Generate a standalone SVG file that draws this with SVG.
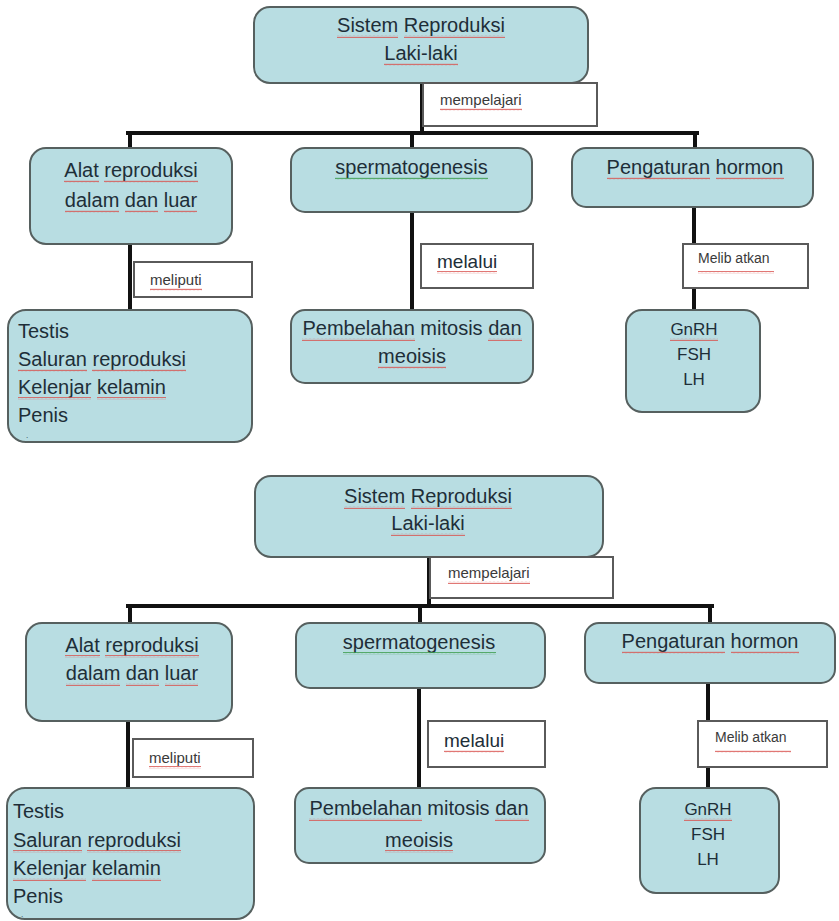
<svg xmlns="http://www.w3.org/2000/svg" width="839" height="921" viewBox="0 0 839 921">
<style>
.n{fill:#b8dde2;stroke:#56605f;stroke-width:2}
.lb{fill:#ffffff;stroke:#5a5a5a;stroke-width:2}
.c{stroke:#111;stroke-width:4;fill:none;stroke-linecap:square}
text{font-family:"Liberation Sans",Arial,sans-serif;fill:#1e2e38}
.t{font-size:20px}
.tm{text-anchor:middle}
.s{font-size:15px;fill:#3a3a3a}
.h{font-size:17px}
.d{font-size:8px}
.sq{fill:url(#wv)}
.sg{fill:url(#wg)}
</style>
<defs>
<pattern id="wv" width="4" height="3" patternUnits="userSpaceOnUse"><path d="M0 2.2 L1 0.8 L2 2.2 L3 0.8 L4 2.2" stroke="#d9534f" stroke-width="0.8" fill="none"/></pattern>
<pattern id="wg" width="4" height="3" patternUnits="userSpaceOnUse"><path d="M0 2.2 L1 0.8 L2 2.2 L3 0.8 L4 2.2" stroke="#3a9a4a" stroke-width="0.8" fill="none"/></pattern>
</defs>
<rect width="839" height="921" fill="#ffffff"/>

<g id="connectors">
<path class="c" d="M422 83 V133 M128 133 H697 M130 133 V148 M412 133 V148 M695 133 V148 M130 244 V310 M412 212 V310 M694 207 V310"/>
<path class="c" d="M429 557 V606 M128 606 H712 M130 606 V623 M420 606 V623 M710 606 V623 M128 721 V788 M419 688 V788 M708 683 V788"/>
</g>

<!-- top diagram -->
<g id="root1">
<rect class="n" x="254" y="7" width="334" height="76" rx="16"/>
<text class="t tm" x="421" y="32">Sistem Reproduksi</text>
<text class="t tm" x="421" y="60">Laki-laki</text>
<rect class="sq" x="337" y="35" width="61" height="3"/><rect class="sq" x="404" y="35" width="101" height="3"/>
<rect class="sq" x="384" y="63" width="74" height="3"/>
</g>
<g id="lbl-mempelajari1">
<rect class="lb" x="423" y="83" width="174" height="43"/>
<text class="s" x="440" y="105">mempelajari</text>
<rect class="sq" x="440" y="108" width="82" height="3"/>
</g>
<g id="alat1">
<rect class="n" x="30" y="148" width="202" height="96" rx="16"/>
<text class="t tm" x="131" y="177">Alat reproduksi</text>
<text class="t tm" x="131" y="207">dalam dan luar</text>
<rect class="sq" x="64" y="180" width="35" height="3"/><rect class="sq" x="104" y="180" width="94" height="3"/>
<rect class="sq" x="65" y="210" width="54" height="3"/><rect class="sq" x="125" y="210" width="33" height="3"/><rect class="sq" x="164" y="210" width="33" height="3"/>
</g>
<g id="sperma1">
<rect class="n" x="291" y="148" width="241" height="64" rx="14"/>
<text class="t tm" x="411.5" y="174">spermatogenesis</text>
<rect class="sg" x="335" y="177" width="153" height="3"/>
</g>
<g id="hormon1">
<rect class="n" x="572" y="148" width="241" height="59" rx="14"/>
<text class="t tm" x="695" y="174">Pengaturan hormon</text>
<rect class="sq" x="607" y="177" width="103" height="3"/><rect class="sq" x="716" y="177" width="68" height="3"/>
</g>
<g id="lbl-meliputi1">
<rect class="lb" x="134" y="262" width="118" height="35"/>
<text class="s" x="150" y="285">meliputi</text>
<rect class="sq" x="150" y="288" width="52" height="3"/>
</g>
<g id="lbl-melalui1">
<rect class="lb" x="421" y="244" width="112" height="44"/>
<text class="t" x="437" y="268" style="font-size:19px">melalui</text>
<rect class="sq" x="437" y="271" width="60" height="3"/>
</g>
<g id="lbl-melibatkan1">
<rect class="lb" x="683" y="244" width="125" height="44"/>
<text class="s" x="698" y="263" style="font-size:14px">Melib atkan</text>
<rect class="sq" x="698" y="271" width="76" height="3"/>
</g>
<g id="organ1">
<rect class="n" x="8" y="310" width="244" height="132" rx="18"/>
<text class="t" x="18" y="338">Testis</text>
<text class="t" x="18" y="366">Saluran reproduksi</text>
<text class="t" x="18" y="394">Kelenjar kelamin</text>
<text class="t" x="18" y="422">Penis</text>
<text class="d" x="26" y="438">.</text>
<rect class="sq" x="18" y="369" width="69" height="3"/><rect class="sq" x="92" y="369" width="94" height="3"/>
<rect class="sq" x="18" y="397" width="73" height="3"/><rect class="sq" x="97" y="397" width="69" height="3"/>
</g>
<g id="pembelahan1">
<rect class="n" x="291" y="310" width="242" height="73" rx="14"/>
<text class="t tm" x="412" y="335">Pembelahan mitosis dan</text>
<text class="t tm" x="412" y="363">meoisis</text>
<rect class="sq" x="302" y="338" width="113" height="3"/><rect class="sq" x="488" y="338" width="34" height="3"/>
<rect class="sq" x="378" y="366" width="68" height="3"/>
</g>
<g id="hormones1">
<rect class="n" x="626" y="310" width="134" height="102" rx="16"/>
<text class="h tm" x="694" y="335">GnRH</text>
<text class="h tm" x="694" y="360">FSH</text>
<text class="h tm" x="694" y="385">LH</text>
<rect class="sq" x="670" y="338" width="48" height="3"/>
</g>

<!-- bottom diagram -->
<g id="root2">
<rect class="n" x="255" y="476" width="348" height="81" rx="16"/>
<text class="t tm" x="428" y="503">Sistem Reproduksi</text>
<text class="t tm" x="428" y="530">Laki-laki</text>
<rect class="sq" x="344" y="506" width="61" height="3"/><rect class="sq" x="411" y="506" width="101" height="3"/>
<rect class="sq" x="391" y="533" width="74" height="3"/>
</g>
<g id="lbl-mempelajari2">
<rect class="lb" x="430" y="557" width="183" height="41"/>
<text class="s" x="448" y="578">mempelajari</text>
<rect class="sq" x="448" y="581" width="82" height="3"/>
</g>
<g id="alat2">
<rect class="n" x="26" y="623" width="206" height="98" rx="16"/>
<text class="t tm" x="132" y="652">Alat reproduksi</text>
<text class="t tm" x="132" y="680">dalam dan luar</text>
<rect class="sq" x="65" y="655" width="35" height="3"/><rect class="sq" x="105" y="655" width="94" height="3"/>
<rect class="sq" x="66" y="683" width="54" height="3"/><rect class="sq" x="126" y="683" width="33" height="3"/><rect class="sq" x="165" y="683" width="33" height="3"/>
</g>
<g id="sperma2">
<rect class="n" x="296" y="623" width="249" height="65" rx="14"/>
<text class="t tm" x="419" y="649">spermatogenesis</text>
<rect class="sg" x="343" y="652" width="153" height="3"/>
</g>
<g id="hormon2">
<rect class="n" x="585" y="623" width="250" height="60" rx="14"/>
<text class="t tm" x="710" y="648">Pengaturan hormon</text>
<rect class="sq" x="622" y="651" width="103" height="3"/><rect class="sq" x="731" y="651" width="68" height="3"/>
</g>
<g id="lbl-meliputi2">
<rect class="lb" x="133" y="739" width="120" height="38"/>
<text class="s" x="149" y="763">meliputi</text>
<rect class="sq" x="149" y="766" width="52" height="3"/>
</g>
<g id="lbl-melalui2">
<rect class="lb" x="428" y="721" width="117" height="46"/>
<text class="t" x="444" y="747" style="font-size:19px">melalui</text>
<rect class="sq" x="444" y="750" width="60" height="3"/>
</g>
<g id="lbl-melibatkan2">
<rect class="lb" x="698" y="721" width="129" height="46"/>
<text class="s" x="715" y="742" style="font-size:14px">Melib atkan</text>
<rect class="sq" x="715" y="750" width="76" height="3"/>
</g>
<g id="organ2">
<rect class="n" x="7" y="788" width="247" height="131" rx="18"/>
<text class="t" x="13" y="818">Testis</text>
<text class="t" x="13" y="847">Saluran reproduksi</text>
<text class="t" x="13" y="875">Kelenjar kelamin</text>
<text class="t" x="13" y="903">Penis</text>
<text class="d" x="21" y="917">.</text>
<rect class="sq" x="13" y="850" width="69" height="3"/><rect class="sq" x="87" y="850" width="94" height="3"/>
<rect class="sq" x="13" y="878" width="73" height="3"/><rect class="sq" x="92" y="878" width="69" height="3"/>
</g>
<g id="pembelahan2">
<rect class="n" x="295" y="788" width="250" height="75" rx="14"/>
<text class="t tm" x="419" y="815">Pembelahan mitosis dan</text>
<text class="t tm" x="419" y="847">meoisis</text>
<rect class="sq" x="309" y="818" width="113" height="3"/><rect class="sq" x="495" y="818" width="34" height="3"/>
<rect class="sq" x="385" y="850" width="68" height="3"/>
</g>
<g id="hormones2">
<rect class="n" x="640" y="788" width="139" height="105" rx="16"/>
<text class="h tm" x="708" y="815">GnRH</text>
<text class="h tm" x="708" y="840">FSH</text>
<text class="h tm" x="708" y="865">LH</text>
<rect class="sq" x="684" y="818" width="48" height="3"/>
</g>
</svg>
